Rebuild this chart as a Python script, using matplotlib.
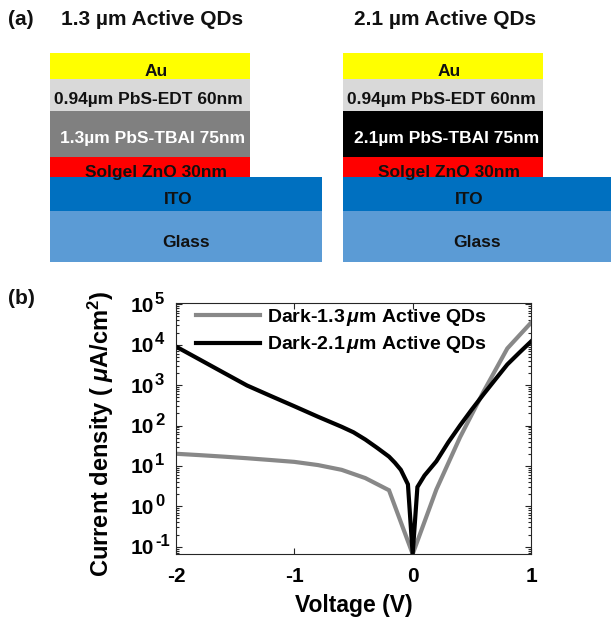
import numpy as np
import matplotlib
matplotlib.use('Agg')
import matplotlib.pyplot as plt
from matplotlib.ticker import FuncFormatter, LogLocator, NullFormatter, FixedLocator

plt.rcParams['font.family'] = ['Liberation Sans', 'DejaVu Sans']
plt.rcParams['font.weight'] = 'bold'
plt.rcParams['mathtext.fontset'] = 'custom'
plt.rcParams['mathtext.rm'] = 'Liberation Sans:bold'
plt.rcParams['mathtext.bf'] = 'Liberation Sans:bold'
plt.rcParams['mathtext.it'] = 'Liberation Sans:italic'
plt.rcParams['axes.unicode_minus'] = False

# ---------------- data ----------------
stack_titles = ['1.3 µm Active QDs', '2.1 µm Active QDs']
layer_names_13 = ['Au', '0.94µm PbS-EDT 60nm', '1.3µm PbS-TBAI 75nm', 'Solgel ZnO 30nm']
layer_names_21 = ['Au', '0.94µm PbS-EDT 60nm', '2.1µm PbS-TBAI 75nm', 'Solgel ZnO 30nm']
substrate_names = ['ITO', 'Glass']

v_13 = [-2.0, -1.8, -1.6, -1.4, -1.2, -1.0, -0.8, -0.6, -0.4, -0.2, 0.0,
        0.2, 0.4, 0.6, 0.8, 1.0]
j_13 = [20, 18.5, 17, 15.5, 14, 12.6, 10.5, 8, 5, 2.5, 0.066,
        2.6, 51, 700, 8100, 35000]

v_21 = [-2.0, -1.8, -1.6, -1.4, -1.2, -1.0, -0.8, -0.6, -0.5, -0.4, -0.3, -0.2,
        -0.15, -0.1, -0.04, 0.0, 0.04, 0.1, 0.2, 0.3, 0.4, 0.5, 0.6, 0.7, 0.8,
        0.9, 1.0]
j_21 = [9000, 4300, 2050, 980, 540, 300, 165, 93, 68, 45, 28, 17,
        12, 8, 3.5, 0.066, 3.0, 5.8, 13, 38, 100, 250, 600, 1400, 3250,
        6300, 12000]

legend_labels = [r'Dark-1.3$\,\mu$m Active QDs', r'Dark-2.1$\,\mu$m Active QDs']
x_ticks = [-2, -1, 0, 1]
y_tick_exponents = [-1, 0, 1, 2, 3, 4, 5]

# ---------------- styles / layout ----------------
W, H = 611, 621
fig = plt.figure(figsize=(W / 100, H / 100), dpi=100)

ax0 = fig.add_axes([0, 0, 1, 1])
ax0.set_xlim(0, W)
ax0.set_ylim(H, 0)
ax0.axis('off')

layer_edges = [53.3, 79, 110.7, 156.7, 177.3, 210.7, 261.7]
stack_left = [50, 343.3]
stack_w = 200
sub_right = [322.3, 611]
layer_colors_13 = ['#FFFF00', '#D9D9D9', '#808080', '#FF0000']
layer_colors_21 = ['#FFFF00', '#D9D9D9', '#000000', '#FF0000']
layer_text_colors = ['#111111', '#111111', '#FFFFFF', '#111111']
sub_colors = ['#0070C0', '#5B9BD5']
text_dx = [6, -2, 3, 6]

for k, (names, cols) in enumerate([(layer_names_13, layer_colors_13),
                                   (layer_names_21, layer_colors_21)]):
    cx = stack_left[k] + stack_w / 2
    for i, (nm, c) in enumerate(zip(names, cols)):
        top, bot = layer_edges[i], layer_edges[i + 1]
        ax0.bar(cx, bot - top, bottom=top, width=stack_w, color=c,
                linewidth=0, align='center')
        ax0.text(cx + text_dx[i], (top + bot) / 2 + 9.5, nm, ha='center',
                 va='baseline', fontsize=12.5, fontweight='bold',
                 color=layer_text_colors[i])
    sw = sub_right[k] - stack_left[k]
    scx = stack_left[k] + sw / 2
    for i, (nm, c) in enumerate(zip(substrate_names, sub_colors)):
        top, bot = layer_edges[4 + i], layer_edges[5 + i]
        ax0.bar(scx, bot - top, bottom=top, width=sw, color=c,
                linewidth=0, align='center')
        ax0.text(scx - (8 if i == 0 else 0), (top + bot) / 2 + 10.5, nm,
                 ha='center', va='baseline', fontsize=12.5,
                 fontweight='bold', color='#111111')
    ax0.text(cx + 2, 25, stack_titles[k], ha='center', va='baseline',
             fontsize=15, fontweight='bold', color='#111111')

ax0.text(8, 25, '(a)', ha='left', va='baseline', fontsize=15,
         fontweight='bold', color='#111111')
ax0.text(8, 304, '(b)', ha='left', va='baseline', fontsize=15,
         fontweight='bold', color='#111111')

# ---------------- JV plot ----------------
ax = fig.add_axes([176 / W, 1 - 554 / H, 355 / W, 251.3 / H])
ax.plot(v_13, j_13, color='#888888', lw=3.0, solid_joinstyle='miter',
        label=legend_labels[0])
ax.plot(v_21, j_21, color='#000000', lw=3.0, solid_joinstyle='miter',
        label=legend_labels[1])
ax.set_yscale('log')
ax.set_xlim(-2, 1)
ax.set_ylim(10 ** -1.18, 10 ** 5.04)
ax.set_xticks(x_ticks)
ax.set_xticklabels([str(t) for t in x_ticks])
y_major = [10.0 ** e for e in y_tick_exponents]
ax.yaxis.set_major_locator(FixedLocator(y_major))
ax.yaxis.set_minor_locator(LogLocator(base=10, subs=np.arange(2, 10), numticks=12))
ax.yaxis.set_minor_formatter(NullFormatter())
ax.yaxis.set_major_formatter(FuncFormatter(lambda v, p: '10'))
ax.tick_params(which='both', direction='in', top=True, right=True,
               color='#262626', width=0.8)
ax.tick_params(which='major', length=4.5, labelsize=15)
ax.tick_params(axis='x', which='major', pad=9)
ax.tick_params(axis='y', which='major', pad=16)
ax.tick_params(which='minor', length=2.5)
for lab in ax.get_xticklabels() + ax.get_yticklabels():
    lab.set_fontweight('bold')
# exponents of the y tick labels (raised, MATLAB style)
for e, yv in zip(y_tick_exponents, y_major):
    ax.annotate(str(e), xy=(0, yv), xycoords=ax.get_yaxis_transform(),
                xytext=(-21, 0.5), textcoords='offset pixels', ha='left',
                va='baseline', fontsize=12, fontweight='bold',
                annotation_clip=False)
for s in ax.spines.values():
    s.set_color('#262626')
    s.set_linewidth(0.8)

ax.set_xlabel('Voltage (V)', fontsize=16.5, fontweight='bold', labelpad=6)
ax.set_ylabel(r'Current density ( $\mu$A/cm$^\mathbf{2}$)', fontsize=17,
              fontweight='bold')
ax.yaxis.set_label_coords(-0.169, 0.48)

leg = ax.legend(loc='upper left', bbox_to_anchor=(0.045, 1.0), frameon=False,
                fontsize=14, handlelength=3.3, handletextpad=0.35,
                labelspacing=0.35, borderpad=0.2, borderaxespad=0.0)
for t in leg.get_texts():
    t.set_fontweight('bold')

fig.savefig('out.png', dpi=100)
